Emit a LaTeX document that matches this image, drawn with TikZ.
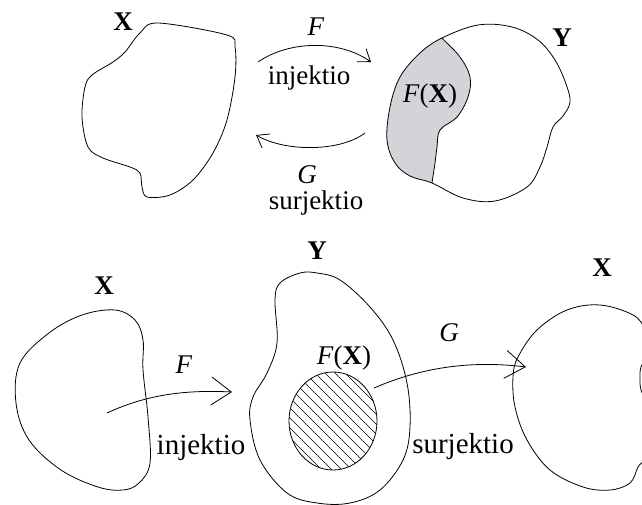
\documentclass[tikz,border=0pt]{standalone}
\usepackage{fontspec}
\setmainfont{Liberation Serif}
\usetikzlibrary{arrows.meta}
\tikzset{
  blob/.style={draw=black,line width=0.8pt},
  conn/.style={line width=0.8pt},
  lbl/.style={inner sep=0pt,font=\fontsize{27}{30}\selectfont},
  lblb/.style={inner sep=0pt,font=\fontsize{29}{32}\selectfont},
  smallhead/.style={-{Straight Barb[length=11pt,width=16pt,line width=0.8pt]}},
  bighead/.style={-{Straight Barb[length=20pt,width=28pt,line width=0.8pt]}},
}
\begin{document}
\begin{tikzpicture}[x=1pt,y=-1pt]
\useasboundingbox (0,0) rectangle (642,505);
\fill[white] (0,0) rectangle (642,505);
% ---------- top ----------
\draw[blob] plot[smooth cycle,tension=0.55] coordinates {(158,23) (227,35) (235,47) (235,77) (227,120) (213,153) (193,180) (170,195) (147,197) (142,187) (140,173) (130,167) (103,158) (88,147) (82,117) (85,87) (92,75) (113,62) (125,52) (140,33)};
\node[lbl,font=\fontsize{27}{30}\selectfont\bfseries] (X1) at (123,22) {X};
\begin{scope}
\clip plot[smooth cycle,tension=0.6] coordinates {(442,38) (478,25) (512,27) (538,40) (555,60) (566,84) (570,102) (563,116) (553,127) (547,147) (540,167) (527,187) (495,201) (463,198) (432,183) (410,176) (395,163) (387,140) (390,107) (400,77) (420,53)};
\fill[fill={rgb,255:red,212;green,212;blue,216}] plot[smooth,tension=0.6] coordinates {(436,30) (442,38) (460,57) (470,77) (468,97) (457,117) (440,130) (437,147) (435,163) (432,183) (431,195)} -- (370,195) -- (370,28) -- cycle;
\draw[blob] plot[smooth,tension=0.6] coordinates {(436,30) (442,38) (460,57) (470,77) (468,97) (457,117) (440,130) (437,147) (435,163) (432,183) (431,195)};
\end{scope}
\draw[blob] plot[smooth cycle,tension=0.6] coordinates {(442,38) (478,25) (512,27) (538,40) (555,60) (566,84) (570,102) (563,116) (553,127) (547,147) (540,167) (527,187) (495,201) (463,198) (432,183) (410,176) (395,163) (387,140) (390,107) (400,77) (420,53)};
\node[lbl,font=\fontsize{27}{30}\selectfont\bfseries] (Y1) at (562,38) {Y};
\node[lbl] (FX1) at (430,96) {\textit{F}(\textbf{X})};
\coordinate (f1s) at (258,62);
\coordinate (f1e) at (371,62);
\coordinate (g1s) at (365,133);
\coordinate (g1e) at (256,135);
\draw[conn,smallhead] (f1s) .. controls (290,40) and (340,40) .. (f1e);
\draw[conn,smallhead] (g1s) .. controls (340,152) and (285,152) .. (g1e);
\node[lbl] (F1) at (316,27) {\textit{F}};
\node[lbl] (inj1) at (309,78) {injektio};
\node[lbl] (G1) at (307,175) {\textit{G}};
\node[lbl] (sur1) at (316,203) {surjektio};
% ---------- bottom ----------
\draw[blob] plot[smooth cycle,tension=0.6] coordinates {(115,310) (135,320) (143,340) (143,370) (148,417) (150,463) (139,483) (123,490) (98,487) (61,470) (29,440) (16,403) (20,363) (49,333) (82,315)};
\node[lbl,font=\fontsize{27}{30}\selectfont\bfseries] (X2) at (104,286) {X};
\draw[blob] plot[smooth cycle,tension=0.6] coordinates {(300,273) (280,283) (275,300) (277,343) (267,373) (253,397) (250,420) (260,460) (287,493) (317,503) (350,503) (380,490) (403,460) (410,427) (407,383) (393,340) (370,307) (340,280) (317,273)};
\node[lbl,font=\fontsize{27}{30}\selectfont\bfseries] (Y2) at (317,251) {Y};
\begin{scope}
\clip (333,421) ellipse [x radius=44, y radius=49];
\foreach \i in {-130,-120,...,130} \draw[line width=0.7pt] (333+\i-70,421-70) -- (333+\i+70,421+70);
\end{scope}
\draw[blob] (333,421) ellipse [x radius=44, y radius=49];
\node[lbl] (FX2) at (344,358) {\textit{F}(\textbf{X})};
\begin{scope}
\clip (0,0) rectangle (642,505);
\draw[blob] plot[smooth cycle,tension=0.6] coordinates {(600,305) (633,315) (645,330) (648,350) (641,367) (640,378) (641,390) (648,410) (645,455) (638,467) (630,483) (610,490) (583,487) (550,470) (527,440) (515,407) (513,377) (518,357) (537,330) (567,310)};
\end{scope}
\node[lbl,font=\fontsize{27}{30}\selectfont\bfseries] (X3) at (602,268) {X};
\coordinate (f2s) at (107,413);
\coordinate (f2e) at (232,392);
\coordinate (g2s) at (374,388);
\coordinate (g2e) at (526,367);
\draw[conn,bighead] (f2s) .. controls (150,393) and (190,390) .. (f2e);
\draw[conn,bighead] (g2s) .. controls (420,368) and (470,360) .. (g2e);
\node[lbl] (F2) at (184,365) {\textit{F}};
\node[lbl] (G2) at (449,333) {\textit{G}};
\node[lblb] (inj2) at (201,448) {injektio};
\node[lblb] (sur2) at (463,447) {surjektio};
\end{tikzpicture}
\end{document}
